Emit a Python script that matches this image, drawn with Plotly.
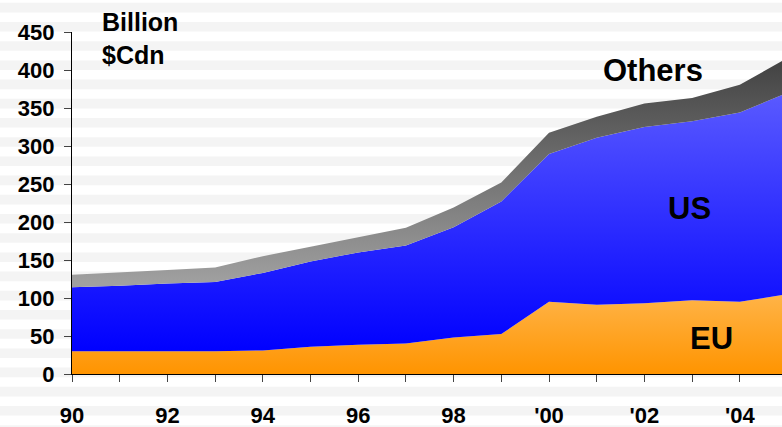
import plotly.graph_objects as go

# Annual values, billion $Cdn
years = list(range(1990, 2006))
eu = [30, 30, 30, 30, 31, 36, 38.5, 40, 48, 52.5, 95, 91, 93, 97, 95, 105]
us = [84, 86, 89, 91, 102, 112, 121.5, 129, 145, 174.5, 194.5, 220, 232, 235.5, 249, 265]
others = [16.5, 18, 18, 19, 22, 19.5, 20, 23.5, 26, 25, 28, 27.5, 31, 30.5, 36.5, 46]

y_ticks = [0, 50, 100, 150, 200, 250, 300, 350, 400, 450]
x_tick_years = list(range(1990, 2006))
x_tick_text = ["90", "", "92", "", "94", "", "96", "", "98", "", "'00", "", "'02", "", "'04", ""]

FONT = "Liberation Sans, Arial, sans-serif"

W, H = 782, 427
ML, MR, MT, MB = 72, 0, 32, 53
PX_PER_YEAR = 47.7
plot_w = W - ML - MR
plot_h = H - MT - MB

fig = go.Figure()

fig.add_trace(go.Scatter(
    x=years, y=eu, name="EU", stackgroup="s", mode="lines",
    line=dict(width=0),
    fillgradient=dict(type="vertical", start=0, stop=105,
                      colorscale=[[0, "#ff9400"], [1, "#ffb448"]]),
    hoverinfo="skip",
))
fig.add_trace(go.Scatter(
    x=years, y=us, name="US", stackgroup="s", mode="lines",
    line=dict(width=0),
    fillgradient=dict(type="vertical", start=30, stop=370,
                      colorscale=[[0, "#0000ff"], [1, "#5a5aff"]]),
    hoverinfo="skip",
))
fig.add_trace(go.Scatter(
    x=years, y=others, name="Others", stackgroup="s", mode="lines",
    line=dict(width=0),
    fillgradient=dict(type="vertical", start=120, stop=420,
                      colorscale=[[0, "#a0a0a0"], [1, "#404040"]]),
    hoverinfo="skip",
))

# Horizontal background banding across the whole page
shapes = []
p = 2.8
while p < H:
    y_top = (H - MB - p) / plot_h
    y_bot = (H - MB - (p + 9.6)) / plot_h
    shapes.append(dict(type="rect", xref="paper", yref="paper",
                       x0=-ML / plot_w - 0.01, x1=1.01, y0=y_bot, y1=y_top,
                       fillcolor="#f4f4f4", line=dict(width=0), layer="below"))
    p += 19.2

label_font = dict(family=FONT, size=31, color="#000000", weight="bold")
annotations = [
    dict(text="Billion<br>$Cdn", xref="paper", yref="paper",
         x=(100 - ML) / plot_w, y=(H - MB - 6) / plot_h,
         xanchor="left", yanchor="top", align="left", showarrow=False,
         font=dict(family=FONT, size=25, color="#000000", weight="bold")),
    dict(text="Others", x=2002.18, y=399, xref="x", yref="y",
         showarrow=False, font=label_font),
    dict(text="US", x=2002.95, y=218, xref="x", yref="y",
         showarrow=False, font=label_font),
    dict(text="EU", x=2003.41, y=47, xref="x", yref="y",
         showarrow=False, font=label_font),
]

fig.update_layout(
    width=W, height=H, autosize=False,
    margin=dict(l=ML, r=MR, t=MT, b=MB, pad=0),
    paper_bgcolor="#ffffff", plot_bgcolor="rgba(0,0,0,0)",
    showlegend=False,
    shapes=shapes,
    annotations=annotations,
    font=dict(family=FONT, color="#000000"),
)

fig.update_xaxes(
    range=[1990, 1990 + plot_w / PX_PER_YEAR],
    tickvals=x_tick_years, ticktext=x_tick_text,
    ticks="outside", ticklen=7, tickcolor="#444444", tickwidth=1,
    showline=True, linecolor="#000000", linewidth=1.3,
    showgrid=False, zeroline=False, automargin=False,
    tickfont=dict(family=FONT, size=22, color="#000000", weight="bold"),
    ticklabelstandoff=14,
)
fig.update_yaxes(
    range=[0, 450],
    tickvals=y_ticks,
    ticks="outside", ticklen=7, tickcolor="#444444", tickwidth=1,
    showline=True, linecolor="#000000", linewidth=1.3,
    showgrid=False, zeroline=False, automargin=False,
    tickfont=dict(family=FONT, size=22, color="#000000", weight="bold"),
    ticklabelstandoff=5,
)

fig.write_html("out.html")
